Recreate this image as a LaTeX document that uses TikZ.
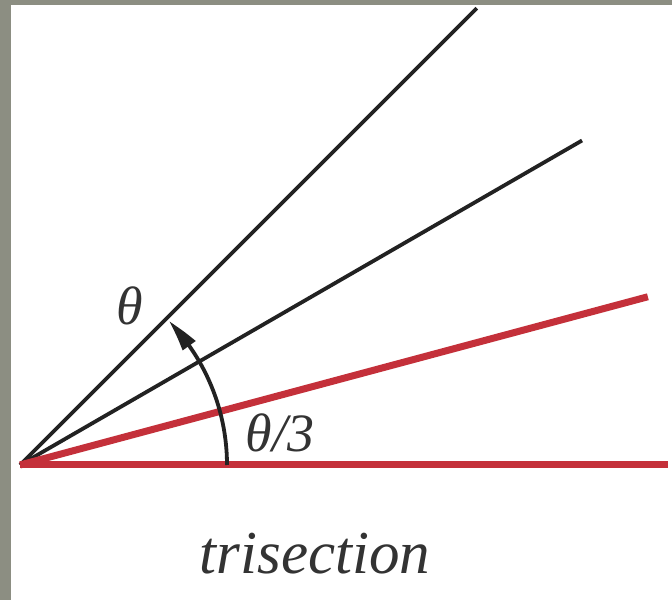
\documentclass[tikz,border=0pt]{standalone}
\usepackage{fontspec}
\setmainfont{Liberation Serif}
\usetikzlibrary{arrows.meta,bending,calc}
\definecolor{bordergray}{HTML}{8C8E82}
\definecolor{rayred}{HTML}{C4303A}
\definecolor{rayblack}{HTML}{222222}
\begin{document}
\begin{tikzpicture}[x=1pt,y=1pt,
  redray/.style={draw=rayred,line width=7pt},
  blackray/.style={draw=rayblack,line width=3.8pt},
  lab/.style={font=\fontsize{54}{60}\selectfont\itshape,text=black!80,inner sep=0pt}]
\fill[bordergray] (0,0) rectangle (672,600);
\fill[white] (11,0) rectangle (672,595);
\useasboundingbox (0,0) rectangle (672,600);
\coordinate (O) at (20,135);
\coordinate (R0) at ($(O)+(0:648)$);
\coordinate (R1) at ($(O)+(15:650)$);
\coordinate (R2) at ($(O)+(30:649)$);
\coordinate (R3) at ($(O)+(45:646)$);
\draw[blackray] (O) -- (R3);
\draw[blackray] (O) -- (R2);
\draw[redray] (O) -- (R1);
\draw[redray] (O) -- (R0);
\coordinate (A0) at ($(O)+(0:207)$);
\draw[rayblack,line width=3.8pt,-{Triangle[length=32pt,width=15pt,bend]}]
  (A0) arc[start angle=0,end angle=44,radius=207];
\node[lab] (th) at (130,294) {θ};
\node[lab] (th3) at (280,167) {θ/3};
\node[lab,anchor=base,font=\fontsize{61}{66}\selectfont\itshape] (tri) at (315,27) {trisection};
\end{tikzpicture}
\end{document}
